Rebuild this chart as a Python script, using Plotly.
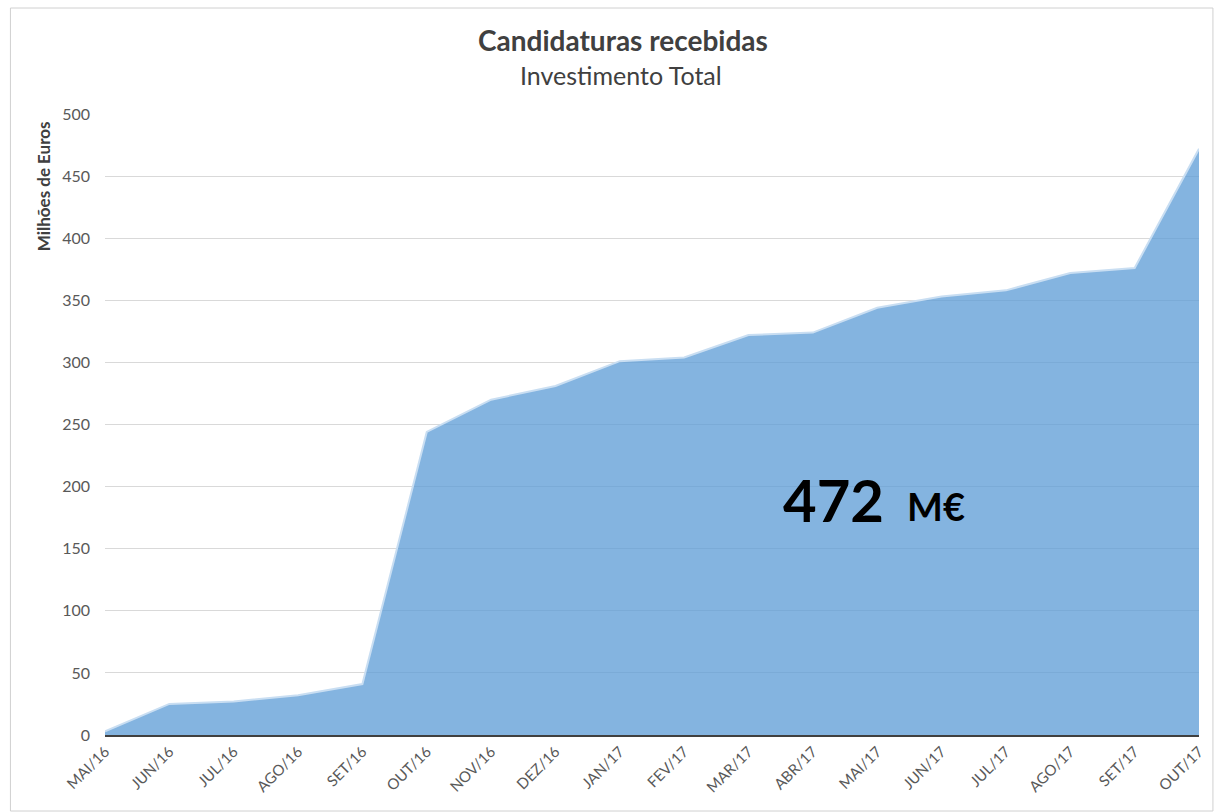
import plotly.graph_objects as go

months = ["MAI/16", "JUN/16", "JUL/16", "AGO/16", "SET/16", "OUT/16", "NOV/16", "DEZ/16",
          "JAN/17", "FEV/17", "MAR/17", "ABR/17", "MAI/17", "JUN/17", "JUL/17", "AGO/17",
          "SET/17", "OUT/17"]
investimento = [3, 25, 27, 32, 41, 244, 270, 281, 301, 304, 322, 324, 344, 353, 358, 372, 376, 472]
y_ticks = [0, 50, 100, 150, 200, 250, 300, 350, 400, 450, 500]

W, H = 1219, 812
L, R, T, B = 105, 15, 114, 77
pw = W - L - R
ph = H - T - B

def px_x(x):
    return (x - L) / pw

def px_y(y):
    return (H - B - y) / ph

FONT = "Lato, Open Sans, sans-serif"

fig = go.Figure()
fig.add_trace(go.Scatter(
    x=list(range(len(months))), y=investimento,
    mode="lines", fill="tozeroy",
    fillcolor="rgba(91,155,213,0.75)",
    line=dict(color="#C9DEF2", width=2),
    hoverinfo="x+y", showlegend=False,
))

def ann(text, x, y, size, color="#404040", angle=0, xa="center", ya="middle"):
    return dict(text=text, x=px_x(x), y=px_y(y), xref="paper", yref="paper",
                showarrow=False, textangle=angle, xanchor=xa, yanchor=ya,
                font=dict(size=size, color=color, family=FONT))

fig.update_layout(
    width=W, height=H,
    margin=dict(l=L, r=R, t=T, b=B),
    paper_bgcolor="white", plot_bgcolor="white",
    font=dict(family=FONT, color="#595959"),
    xaxis=dict(
        tickmode="array", tickvals=list(range(len(months))), ticktext=months,
        range=[0, len(months) - 1], tickangle=-45,
        tickfont=dict(size=15, color="#595959", family=FONT),
        showgrid=False, zeroline=False,
        showline=True, linecolor="#404040", linewidth=2,
        ticks="", fixedrange=True,
    ),
    yaxis=dict(
        range=[0, 500], tickvals=y_ticks,
        tickfont=dict(size=16, color="#595959", family=FONT),
        showgrid=True, gridcolor="#D9D9D9", gridwidth=1,
        zeroline=False, showline=False, ticks="",
        ticklabelstandoff=14,
    ),
    annotations=[
        ann("<b>Candidaturas recebidas</b>", 625, 40, 28),
        ann("Investimento Total", 623, 75, 25),
        ann("<b>Milhões de Euros</b>", 44, 186, 17, angle=-90),
        ann("<b>472</b>", 890, 499, 58, color="black", xa="right"),
        ann("<b>M€</b>", 909, 506, 38, color="black", xa="left"),
    ],
    shapes=[
        dict(type="rect", xref="paper", yref="paper",
             x0=px_x(10), x1=px_x(1218), y0=px_y(811), y1=px_y(8),
             line=dict(color="#D0D0D0", width=1), layer="below"),
    ],
)

fig.write_html("out.html", config={"displayModeBar": False},
               post_script="document.body.style.margin='0';document.body.style.padding='0';")
